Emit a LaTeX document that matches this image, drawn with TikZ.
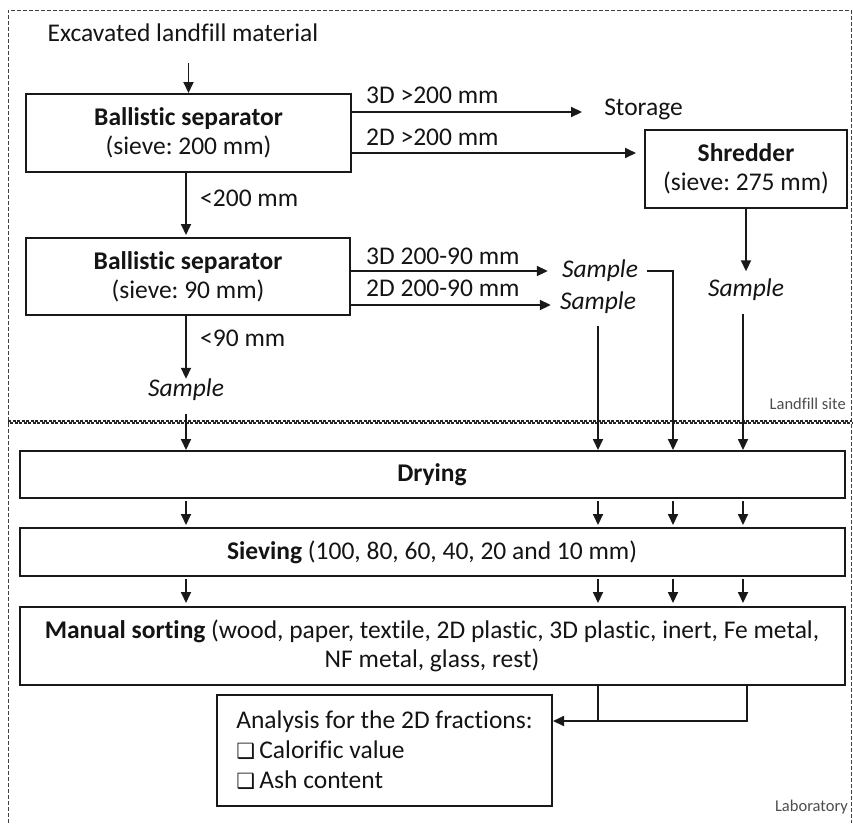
\documentclass[tikz,border=0pt]{standalone}
\usepackage{fontspec}
\setmainfont{Carlito}[Ligatures=NoCommon]
\newfontfamily\symfont{DejaVu Sans}
\usetikzlibrary{arrows.meta}
\begin{document}
\frenchspacing
\begin{tikzpicture}[x=1pt,y=-1pt,
  every node/.style={font=\fontsize{25.5}{29}\selectfont, inner sep=0pt, text=black!92},
  box/.style={draw=black!90, line width=2pt, align=center},
  txt/.style={text height=17pt, text depth=5pt},
  lbl/.style={txt, anchor=west},
  it/.style={txt, font=\fontsize{25.5}{29}\selectfont\itshape},
  arr/.style={line width=1.8pt, black!90, -{Triangle[length=11pt,width=10pt]}},
  ln/.style={line width=1.8pt, black!90},
  framel/.style={line width=0.9pt, dash pattern=on 4pt off 2pt, black!75},
  site/.style={font=\fontsize{16.5}{19}\selectfont, text=black!70, anchor=east}]

\useasboundingbox (0,0) rectangle (853,823);

% frames
\draw[framel] (8,823) -- (8,10) -- (851.5,10) -- (851.5,823);
\draw[line width=1.2pt, dash pattern=on 3pt off 1.5pt, black!85] (8,421) -- (852,421);
\draw[line width=1.2pt, dash pattern=on 3pt off 1.5pt, dash phase=2.2pt, black!85] (8,423) -- (852,423);
\node[site] (site) at (846,404) {Landfill site};
\node[site] (lab) at (848,807) {Laboratory};

% columns
\coordinate (cA) at (186,0);
\coordinate (cB) at (598,0);
\coordinate (cC) at (673,0);
\coordinate (cD) at (743,0);
\coordinate (cE) at (747,0);

% landfill part
\node[txt] (exc) at (183,35) {Excavated landfill material};
\node[box, minimum width=325pt, minimum height=78pt] (bs1) at (188.5,133)
  {\textbf{Ballistic separator}\\(sieve: 200 mm)};
\node[txt] (stor) at (643.5,109) {Storage};
\node[box, minimum width=202pt, minimum height=78pt] (shred) at (746,169)
  {\textbf{Shredder}\\(sieve: 275 mm)};
\node[box, minimum width=324pt, minimum height=77pt] (bs2) at (188,276.5)
  {\textbf{Ballistic separator}\\(sieve: 90 mm)};
\node[it] (s3d) at (600,271) {Sample};
\node[it] (s2d) at (598,303) {Sample};
\node[it] (ssh) at (746,290) {Sample};
\node[it] (sl) at (186,390) {Sample};

\node[lbl] (l3a) at (366,97) {3D >200 mm};
\node[lbl] (l2a) at (366,139) {2D >200 mm};
\node[lbl] (l3b) at (366,258) {3D 200-90 mm};
\node[lbl] (l2b) at (366,290) {2D 200-90 mm};
\node[lbl] (l200) at (200,200) {<200 mm};
\node[lbl] (l90) at (200,340) {<90 mm};

% lab part
\node[box, minimum width=825pt, minimum height=47pt] (dry) at (432,474.5) {\textbf{Drying}};
\node[box, minimum width=825pt, minimum height=48pt] (siev) at (432,552)
  {\textbf{Sieving} (100, 80, 60, 40, 20 and 10 mm)};
\node[box, minimum width=825pt, minimum height=78pt] (man) at (432,646)
  {\textbf{Manual sorting} (wood, paper, textile, 2D plastic, 3D plastic, inert, Fe metal,\\NF metal, glass, rest)};
\node[box, minimum width=335pt, minimum height=111pt, align=left,
  font=\fontsize{25.5}{30}\selectfont] (ana) at (384.5,750.5)
  {Analysis for the 2D fractions:\\{\symfont\fontsize{21}{30}\selectfont ❑}\,Calorific value\\{\symfont\fontsize{21}{30}\selectfont ❑}\,Ash content};

% connectors (landfill)
\draw[arr, shorten <=17pt] (exc.south -| bs1.north) -- (bs1.north);
\draw[arr, shorten >=22pt] ([yshift=21pt]bs1.east) -- ([yshift=21pt]bs1.east -| stor.west);
\draw[arr, shorten >=8pt] ([yshift=-20pt]bs1.east) -- ([yshift=-20pt]bs1.east -| shred.west);
\draw[arr, shorten >=2pt] (bs1.south -| cA) -- (bs2.north -| cA);
\draw[arr, shorten >=14pt] ([yshift=5.5pt]bs2.east) -- ([yshift=5.5pt]bs2.east -| s3d.west);
\draw[arr, shorten >=9pt] ([yshift=-28.5pt]bs2.east) -- ([yshift=-28.5pt]bs2.east -| s2d.west);
\draw[arr] (bs2.south -| cA) -- (sl.north);
\draw[arr] (shred.south) -- ([yshift=7.5pt]ssh.north);

% connectors to drying
\draw[arr, shorten <=12.5pt] (sl.south) -- (dry.north -| cA);
\draw[arr, shorten <=11.5pt] (s2d.south) -- (dry.north -| cB);
\draw[arr, shorten <=9pt] (s3d.east) -| (dry.north -| cC);
\draw[arr, shorten <=12.5pt] (ssh.south -| cD) -- (dry.north -| cD);

% lab connectors
\foreach \c in {cA,cB,cC,cD} {
  \draw[arr, shorten <=2pt, shorten >=2pt] (dry.south -| \c) -- (siev.north -| \c);
  \draw[arr, shorten <=2pt, shorten >=3pt] (siev.south -| \c) -- (man.north -| \c);
}
\draw[ln] (man.south -| cE) |- ([yshift=29.5pt]ana.east -| cB);
\draw[arr] (man.south -| cB) |- ([yshift=29.5pt]ana.east);
\end{tikzpicture}
\end{document}
